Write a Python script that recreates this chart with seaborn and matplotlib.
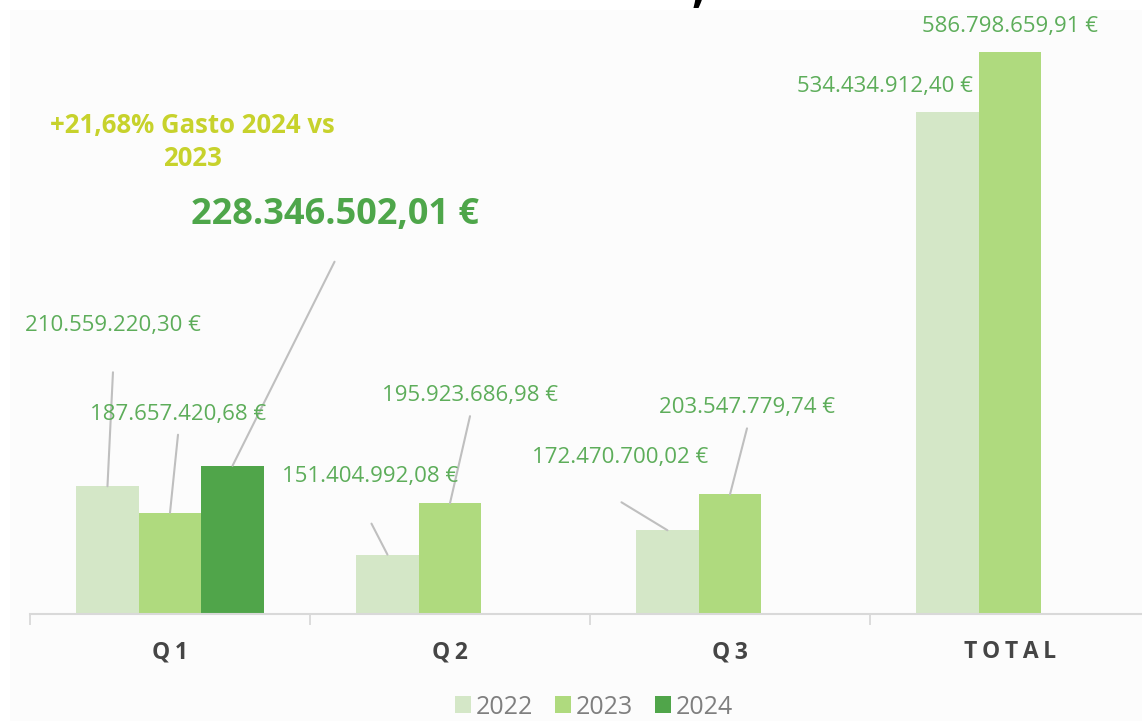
import matplotlib
matplotlib.use("Agg")
import matplotlib.pyplot as plt
import seaborn as sns
import pandas as pd
from matplotlib.patches import Rectangle
from matplotlib.lines import Line2D

# ---- data ----
categories = ["Q1", "Q2", "Q3", "TOTAL"]
years = ["2022", "2023", "2024"]
values_2022 = [210559220.30, 151404992.08, 172470700.02, 534434912.40]
values_2023 = [187657420.68, 195923686.98, 203547779.74, 586798659.91]
values_2024 = [228346502.01, None, None, None]
labels_2022 = ["210.559.220,30 €", "151.404.992,08 €", "172.470.700,02 €", "534.434.912,40 €"]
labels_2023 = ["187.657.420,68 €", "195.923.686,98 €", "203.547.779,74 €", "586.798.659,91 €"]
labels_2024 = ["228.346.502,01 €", None, None, None]
note_text = "+21,68% Gasto 2024 vs\n2023"

rows = []
for yr, vals, labs in zip(years, [values_2022, values_2023, values_2024],
                          [labels_2022, labels_2023, labels_2024]):
    for c, v, l in zip(categories, vals, labs):
        if v is not None:
            rows.append({"cat": c, "year": yr, "value": v, "label": l})
df = pd.DataFrame(rows)

palette = {"2022": "#d4e7c7", "2023": "#afda7e", "2024": "#50a54a"}
label_color = "#5dad5a"

sns.set_theme(style="white")
plt.rcParams["font.family"] = ["Open Sans", "DejaVu Sans"]

W, H = 1142, 721
fig = plt.figure(figsize=(W / 100, H / 100), dpi=100)
fig.patch.set_facecolor("white")
fig.add_artist(Rectangle((10 / W, 0), 1, (H - 10) / H, transform=fig.transFigure,
                         facecolor="#fcfcfc", edgecolor="none", zorder=0))

ax = fig.add_axes([30 / W, 107 / H, 1120 / W, 604 / H])
ax.set_facecolor("none")
sns.barplot(data=df, x="cat", y="value", hue="year", order=categories,
            hue_order=years, palette=palette, width=0.67, gap=0,
            saturation=1, dodge=True, ax=ax, legend=False, errorbar=None,
            linewidth=0, edgecolor="none")

ax.set_xlim(-0.5, 3.5)
ax.set_ylim(100e6, 100e6 + 604 * 0.8656e6)
ax.set_xlabel("")
ax.set_ylabel("")
ax.set_yticks([])
for s in ["top", "right", "left"]:
    ax.spines[s].set_visible(False)
ax.spines["bottom"].set_color("#d9d9d9")
ax.spines["bottom"].set_linewidth(1.5)
ax.set_xticks(range(len(categories)))
spaced = ["\u2009".join(list(c)) for c in categories]
ax.set_xticklabels(spaced)
for t in ax.get_xticklabels():
    t.set_fontsize(16.5)
    t.set_fontweight("bold")
    t.set_color("#454545")
ax.tick_params(axis="x", which="major", length=0, bottom=False, pad=19)
ax.set_xticks([-0.5, 0.5, 1.5, 2.5], minor=True)
ax.tick_params(axis="x", which="minor", bottom=True, length=8, width=1.3,
               color="#d9d9d9", direction="out")

fig.canvas.draw()

# label layout: (text dx, text dy, line start dx, line start dy) in pixels from bar top
layout = {
    ("Q1", "2022"): (5.5, 161, 5.5, 114),
    ("Q1", "2023"): (8, 98, 8, 78),
    ("Q1", "2024"): (102, 251, 102, 204),
    ("Q2", "2022"): (-17, 78, -16, 31),
    ("Q2", "2023"): (20, 108, 20, 87),
    ("Q3", "2022"): (-47, 73, -46, 28),
    ("Q3", "2023"): (17, 87, 17, 66),
    ("TOTAL", "2022"): (-63, 26, None, None),
    ("TOTAL", "2023"): (0, 25, None, None),
}

hue_w = 0.67 / 3
for _, r in df.iterrows():
    ci = categories.index(r["cat"])
    hi = years.index(r["year"])
    xc = ci - 0.67 / 2 + hue_w * (hi + 0.5)
    px, py = ax.transData.transform((xc, r["value"]))
    tdx, tdy, ldx, ldy = layout[(r["cat"], r["year"])]
    big = r["year"] == "2024"
    fig.text((px + tdx) / W, (py + tdy) / H, r["label"], ha="center", va="center",
             color="#4ea64a" if big else label_color,
             fontsize=26 if big else 16, fontweight="bold" if big else "normal")
    if ldx is not None:
        fig.add_artist(Line2D([(px + ldx) / W, px / W], [(py + ldy) / H, py / H],
                              transform=fig.transFigure, color="#bfbfbf", lw=1.5))

fig.text(192 / W, (H - 142) / H, note_text, ha="center", va="center",
         color="#c7d22c", fontsize=18.5, fontweight="bold", linespacing=1.3)

# fragment of cropped title
fig.text(698 / W, (H + 10) / H, ",", ha="center", va="center", color="black",
         fontsize=34, fontweight="bold")

handles = [Rectangle((0, 0), 1, 1, facecolor=palette[y], edgecolor="none") for y in years]
leg = fig.legend(handles, years, loc="center", bbox_to_anchor=(594 / W, (H - 707) / H),
                 ncol=3, frameon=False, fontsize=18, handlelength=0.65, handleheight=0.65,
                 handletextpad=0.2, columnspacing=0.85, labelcolor="#7f7f7f")

fig.savefig("out.png", dpi=100, facecolor="white")
